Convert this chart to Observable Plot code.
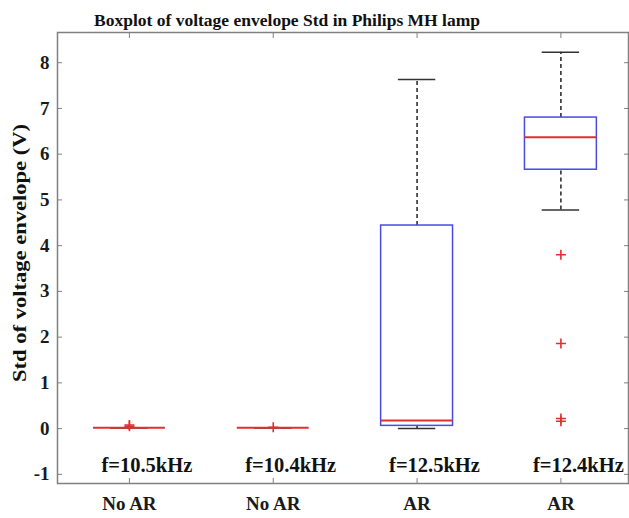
<!DOCTYPE html>
<html>
<head>
<meta charset="utf-8">
<script src="https://cdn.jsdelivr.net/npm/d3@7"></script>
<script src="https://cdn.jsdelivr.net/npm/@observablehq/plot@0.6"></script>
<style>
  body { margin: 0; background: #fff; }
  svg { display: block; }
</style>
</head>
<body>
<div id="chart"></div>
<script>
const titleText = "Boxplot of voltage envelope Std in Philips MH lamp";
const yLabel = "Std of voltage envelope (V)";
const positions = [1, 2, 3, 4];
const categories = ["No AR", "No AR", "AR", "AR"];
const freqLabels = ["f=10.5kHz", "f=10.4kHz", "f=12.5kHz", "f=12.4kHz"];
const whiskerLow = [0.02, 0.02, 0.0, 4.78];
const q1 = [0.02, 0.02, 0.06, 5.66];
const medians = [0.02, 0.02, 0.18, 6.37];
const q3 = [0.02, 0.02, 4.44, 6.80];
const whiskerHigh = [0.02, 0.02, 7.63, 8.23];
const outlierPos = [1, 1, 2, 4, 4, 4, 4];
const outlierVal = [0.05, 0.08, 0.03, 3.80, 1.86, 0.22, 0.16];
const yTicks = [-1, 0, 1, 2, 3, 4, 5, 6, 7, 8];

const boxes = positions.map((p, i) => ({
  pos: p, cat: categories[i], freq: freqLabels[i],
  lo: whiskerLow[i], q1: q1[i], med: medians[i], q3: q3[i], hi: whiskerHigh[i]
}));
const outliers = outlierPos.map((p, i) => ({pos: p, val: outlierVal[i]}));

const plusSymbol = {
  draw(context, size) {
    const r = 5;
    context.moveTo(-r, 0); context.lineTo(r, 0);
    context.moveTo(0, -r); context.lineTo(0, r);
  }
};

const blue = "#4a4ae6";
const red = "#e0302e";
const frameGray = "#808080";
const halfBox = 0.25, halfCap = 0.13;

const chart = Plot.plot({
  width: 629,
  height: 518,
  marginLeft: 57,
  marginRight: 1,
  marginTop: 32,
  marginBottom: 35,
  style: {fontFamily: "'Liberation Serif', 'Times New Roman', serif", fontWeight: "bold", fontSize: "19px", color: "#1a1a1a", background: "#fff"},
  x: {domain: [0.5, 4.47]},
  y: {domain: [-1.2, 8.66]},
  marks: [
    Plot.frame({stroke: frameGray, strokeWidth: 1.5}),
    Plot.axisY({ticks: yTicks, tickFormat: d => String(d), tickSize: -5, tickPadding: 13, stroke: frameGray, fontSize: 19, label: null}),
    Plot.axisY({anchor: "right", ticks: yTicks, tickFormat: () => "", tickSize: -5, stroke: frameGray, label: null}),
    Plot.axisX({ticks: positions, tickFormat: d => categories[d - 1], tickSize: -5, tickPadding: 18, stroke: frameGray, fontSize: 19, label: null}),
    Plot.axisX({anchor: "top", ticks: positions, tickFormat: () => "", tickSize: -5, stroke: frameGray, label: null}),
    // whiskers
    Plot.ruleX(boxes, {x: "pos", y1: "q3", y2: "hi", stroke: "#222", strokeWidth: 1.5, strokeDasharray: "4,3"}),
    Plot.ruleX(boxes, {x: "pos", y1: "lo", y2: "q1", stroke: "#222", strokeWidth: 1.5, strokeDasharray: "4,3"}),
    // caps
    Plot.ruleY(boxes, {y: "hi", x1: d => d.pos - halfCap, x2: d => d.pos + halfCap, stroke: "#333", strokeWidth: 1.5}),
    Plot.ruleY(boxes, {y: "lo", x1: d => d.pos - halfCap, x2: d => d.pos + halfCap, stroke: "#333", strokeWidth: 1.5}),
    // boxes
    Plot.rect(boxes, {x1: d => d.pos - halfBox, x2: d => d.pos + halfBox, y1: "q1", y2: "q3", fill: "none", stroke: blue, strokeWidth: 1.5}),
    // medians
    Plot.ruleY(boxes, {y: "med", x1: d => d.pos - halfBox, x2: d => d.pos + halfBox, stroke: red, strokeWidth: 2}),
    // outliers
    Plot.dot(outliers, {x: "pos", y: "val", symbol: plusSymbol, stroke: red, fill: "none", strokeWidth: 1.6}),
    // frequency annotations
    Plot.text(boxes, {x: "pos", y: -0.8, text: "freq", textAnchor: "start", dx: -28, fontSize: 20.5, fontWeight: "bold", fill: "#111"}),
    // title
    Plot.text([titleText], {frameAnchor: "top", dx: -56, dy: -19, fontSize: 17.5, fontWeight: "bold", fill: "#111"}),
    // y label
    Plot.text([yLabel], {frameAnchor: "left", textAnchor: "middle", rotate: -90, dx: -37, dy: -5, fontSize: 18, fontWeight: "bold", fill: "#111", className: "ylabel"})
  ]
});
document.getElementById("chart").appendChild(chart);
// stretch the rotated y label along its length, as in the reference
d3.select(chart).selectAll(".ylabel text")
  .attr("textLength", 258)
  .attr("lengthAdjust", "spacingAndGlyphs");
</script>
</body>
</html>
